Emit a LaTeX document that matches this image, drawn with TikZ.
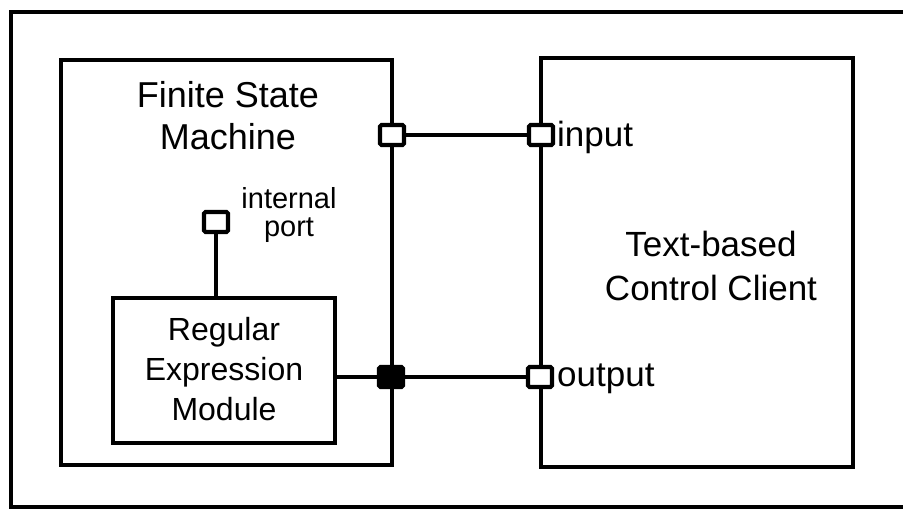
\documentclass[tikz,border=0pt]{standalone}
\usepackage{fontspec}
\setmainfont{Liberation Sans}
\begin{document}
\begin{tikzpicture}[x=1pt,y=-1pt,
  frame/.style={draw,line width=4.2pt,rectangle,inner sep=0pt},
  port/.style={draw,line width=4.2pt,rectangle,rounded corners=1.5pt,minimum width=24pt,minimum height=20pt,inner sep=0pt,fill=white},
  fport/.style={port,fill=black},
  wire/.style={line width=3.4pt},
  biglabel/.style={align=center,font=\fontsize{36}{42}\selectfont,inner sep=0pt},
  clilabel/.style={align=center,font=\fontsize{35}{44}\selectfont,inner sep=0pt},
  remlabel/.style={align=center,font=\fontsize{32}{40}\selectfont,inner sep=0pt},
  smalllabel/.style={align=center,font=\fontsize{29}{28}\selectfont,inner sep=0pt},
  portlabel/.style={anchor=west,font=\fontsize{35}{41}\selectfont,inner sep=0pt}]
\useasboundingbox (0,0) rectangle (903,510);
% outer frame (open to the right)
\coordinate (ftr) at (905,12);
\coordinate (fbr) at (905,507);
\draw[line width=4.2pt] (ftr) -- (11,12) -- (11,507) -- (fbr);
% boxes
\node[frame,minimum width=331pt,minimum height=405pt] (fsm) at (226.5,262.5) {};
\node[frame,minimum width=312pt,minimum height=409pt] (cli) at (697,262.5) {};
\node[frame,minimum width=222pt,minimum height=145pt,fill=white] (rem) at (224,370.5) {};
% labels
\node[biglabel] (fsmt) at (228,116) {Finite State\\Machine};
\node[clilabel] (clit) at (711,266) {Text-based\\Control Client};
\node[remlabel] (remt) at (224,369) {Regular\\Expression\\Module};
\node[smalllabel] (intt) at (289,215) {internal\\port};
% ports
\node[port] (in1) at (392,135) {};
\node[port] (in2) at (541,135) {};
\node[fport] (out1) at (391,377) {};
\node[port] (out2) at (540,377) {};
\node[port] (intp) at (216,222) {};
\node[portlabel] (inl) at (557,137) {input};
\node[portlabel] (outl) at (557,379) {output};
% wires
\draw[wire] (in1) -- (in2);
\draw[wire] (out1) -- (out2);
\draw[wire] (out1 -| rem.east) -- (out1);
\draw[wire] (intp) -- (intp |- rem.north);
\end{tikzpicture}
\end{document}
